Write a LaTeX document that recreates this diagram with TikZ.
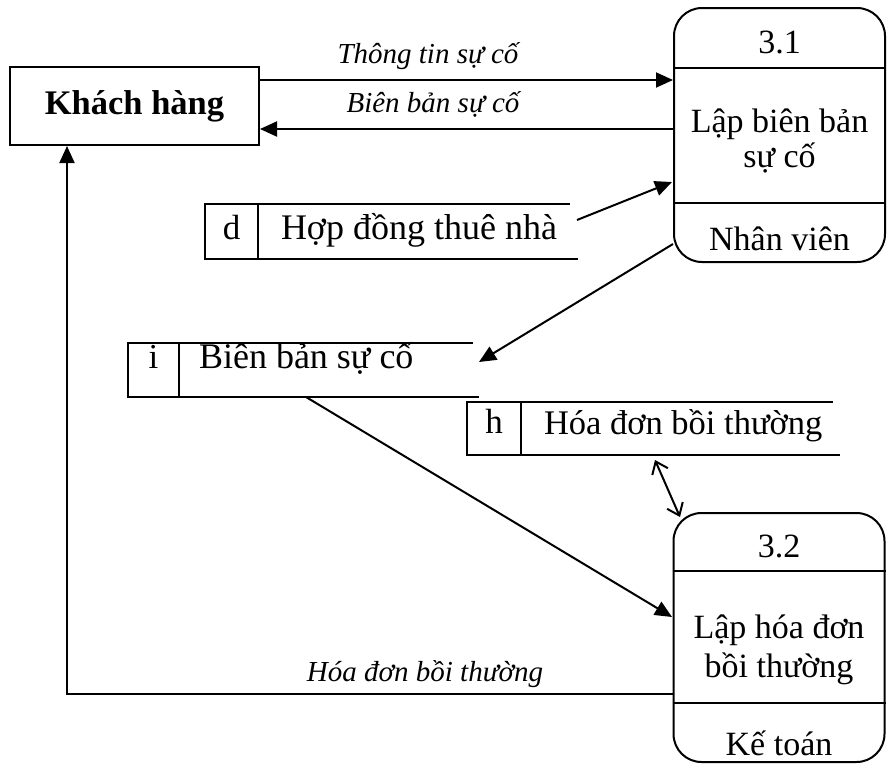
\documentclass[tikz,border=0pt]{standalone}
\usepackage{fontspec}
\setmainfont{Liberation Serif}
\usetikzlibrary{arrows.meta,calc}

\begin{document}
\begin{tikzpicture}[x=1pt,y=-1pt,line width=2pt,
  entity/.style={draw,rectangle,minimum width=249pt,minimum height=78pt,inner sep=0pt,
    font=\bfseries\fontsize{34.5}{40}\selectfont},
  procbox/.style={draw,rounded corners=28pt,minimum width=211pt,inner sep=0pt},
  ptext/.style={anchor=base,inner sep=0pt,font=\fontsize{34}{40}\selectfont},
  stext/.style={anchor=base west,inner sep=0pt,font=\fontsize{36}{42}\selectfont},
  sid/.style={anchor=base,inner sep=0pt,font=\fontsize{35}{42}\selectfont},
  flowlbl/.style={anchor=base,inner sep=0pt,font=\itshape\fontsize{29}{34}\selectfont},
  flow/.style={-{Triangle[length=17pt,width=15pt]}},
  both/.style={{Straight Barb[length=11pt,width=17pt,line width=2pt]}-{Straight Barb[length=11pt,width=17pt,line width=2pt]}}
]
\useasboundingbox (0,0) rectangle (887,764);

% external entity
\node[entity] (kh) at (134.5,106) {Khách hàng};

% process 3.1
\node[procbox,minimum height=254pt] (p31) at (779.5,135) {};
\draw (p31.west |- 0,68) -- (p31.east |- 0,68);
\draw (p31.west |- 0,203) -- (p31.east |- 0,203);
\node[ptext] (p31id) at (779.5,53) {3.1};
\node[ptext] (p31a) at (779.5,132) {Lập biên bản};
\node[ptext] (p31b) at (779.5,167) {sự cố};
\node[ptext] (p31w) at (779.5,250) {Nhân viên};

% process 3.2
\node[procbox,minimum height=249pt] (p32) at (779,637.5) {};
\draw (p32.west |- 0,571) -- (p32.east |- 0,571);
\draw (p32.west |- 0,703) -- (p32.east |- 0,703);
\node[ptext] (p32id) at (779,557) {3.2};
\node[ptext] (p32a) at (779,638) {Lập hóa đơn};
\node[ptext] (p32b) at (779,677) {bồi thường};
\node[ptext] (p32w) at (779,755) {Kế toán};

% data store d
\draw (578,259) -- (205,259) -- (205,204) -- (570,204);
\draw (258,204) -- (258,259);
\node[sid] (sdid) at (231.5,239) {d};
\node[stext] (sd) at (280,239) {Hợp đồng thuê nhà};

% data store i
\draw (479,397) -- (128,397) -- (128,343) -- (473,343);
\draw (179,343) -- (179,397);
\node[sid] (siid) at (153.5,368) {i};
\node[stext] (si) at (198,368) {Biên bản sự cố};

% data store h
\draw (840,455) -- (467,455) -- (467,402) -- (833,402);
\draw (521,402) -- (521,455);
\node[sid] (shid) at (494,433) {h};
\node[stext,font=\fontsize{34.5}{40}\selectfont] (sh) at (543,434) {Hóa đơn bồi thường};

% connector end points
\coordinate (sd-out) at (577,220);
\coordinate (p31-in) at (672,182);
\coordinate (p31-out) at (673,244);
\coordinate (si-in) at (479,362);
\coordinate (si-out) at (306,397);
\coordinate (p32-in) at (672,617);
\coordinate (sh-end) at (655,460);
\coordinate (p32-top) at (680,517);

% flows
\draw[flow] (kh.east |- 0,80) -- (p31.west |- 0,80);
\node[flowlbl] (l1) at (428,63) {Thông tin sự cố};
\draw[flow] (p31.west |- 0,129) -- (kh.east |- 0,129);
\node[flowlbl] (l2) at (433,112) {Biên bản sự cố};
\draw[flow] (sd-out) -- (p31-in);
\draw[flow] (p31-out) -- (si-in);
\draw[flow] (si-out) -- (p32-in);
\draw[both] (sh-end) -- (p32-top);
\draw[flow] (p32.west |- 0,694) -| (kh.south -| 67,0);
\node[flowlbl] (l3) at (425,681) {Hóa đơn bồi thường};
\end{tikzpicture}
\end{document}
